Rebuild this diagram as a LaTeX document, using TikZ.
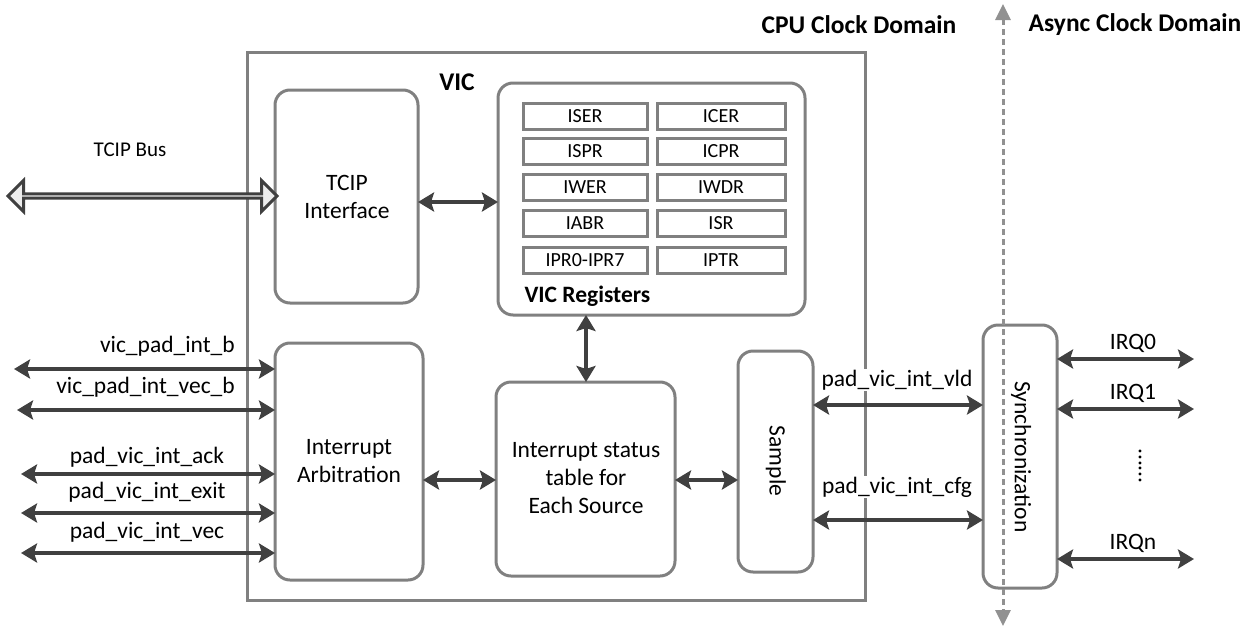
\documentclass[tikz,border=0pt]{standalone}
\usepackage{fontspec}
\setmainfont{Carlito}
\usetikzlibrary{arrows.meta,shapes.arrows}
\definecolor{boxgray}{RGB}{128,128,128}
\definecolor{arrgray}{RGB}{64,64,64}
\definecolor{dashgray}{RGB}{145,145,145}
\begin{document}
\begin{tikzpicture}[x=1pt,y=-1pt,
  blk/.style={draw=boxgray,line width=3pt,rounded corners=15pt,fill=white},
  reg/.style={draw=boxgray,line width=3pt,fill=white,minimum height=26pt,inner sep=0pt,font=\fontsize{20}{23}\selectfont},
  conn/.style={draw=arrgray,line width=3.5pt,{Stealth[length=16pt,width=19pt,inset=3pt]}-{Stealth[length=16pt,width=19pt,inset=3pt]}},
  sig/.style={font=\fontsize{23.5}{27}\selectfont,fill=white,inner sep=1pt},
  btxt/.style={font=\bfseries\fontsize{25.5}{29}\selectfont},
  txt/.style={font=\fontsize{23.5}{28}\selectfont,align=center}]
\useasboundingbox (0,0) rectangle (1252,629);
% outer VIC box
\draw[boxgray,line width=3pt] (247,52) rectangle (865,600);
\node[btxt] (vic) at (457,82) {VIC};
% titles
\node[btxt] (cpu) at (859,25) {CPU Clock Domain};
\node[btxt] (async) at (1135,25) {Async Clock Domain};
% TCIP interface
\draw[blk] (275,90) rectangle (418,303);
\coordinate (tciL) at (275,196);
\coordinate (tciR) at (418,202);
\node[txt] (tcitxt) at (347,197) {TCIP\\Interface};
% VIC registers
\draw[blk] (498,83) rectangle (805,315);
\coordinate (vrL) at (498,202);
\coordinate (vrB) at (586,315);
\foreach \n/\y/\a/\b in {1/116/ISER/ICER,2/151/ISPR/ICPR,3/187.5/IWER/IWDR,4/223.5/IABR/ISR,5/260/IPR0-IPR7/IPTR}{
  \node[reg,minimum width=124pt] (rl\n) at (585,\y) {\a};
  \node[reg,minimum width=128pt] (rr\n) at (721,\y) {\b};
}
\node[btxt,anchor=west,font=\bfseries\fontsize{23.5}{27}\selectfont] (vrt) at (521,296) {VIC Registers};
% interrupt arbitration
\draw[blk] (275,343) rectangle (423,580);
\node[txt] (arbt) at (349,461) {Interrupt\\Arbitration};
% table
\draw[blk] (496,382) rectangle (675,576);
\node[txt] (tabt) at (586,478) {Interrupt status\\table for\\Each Source};
% sample
\draw[blk] (738,351) rectangle (813,572);
\node[txt,rotate=-90] (samt) at (776,461) {Sample};
% TCIP bus
\node[single arrow,double arrow,draw=arrgray,fill=white!93!black,line width=3pt,
  minimum width=31pt,single arrow head extend=9pt,double arrow head extend=9pt,
  minimum height=269pt,inner sep=0pt,shape border uses incircle=false] (bus) at (142.5,196) {};
\node[font=\fontsize{21}{25}\selectfont] (bust) at (130,150) {TCIP Bus};
% internal connectors
\draw[conn] (tciR) -- (vrL);
\draw[conn] (vrB) -- (586,382);
\draw[conn] (423,480) -- (496,480);
\draw[conn] (675,480) -- (738,480);
% left signals
\coordinate (l1) at (14,369);
\coordinate (l2) at (17,410);
\coordinate (l3) at (21,474);
\coordinate (l4) at (21,513);
\coordinate (l5) at (21,553);
\draw[conn] (l1) -- (275,369);
\draw[conn] (l2) -- (275,410);
\draw[conn] (l3) -- (275,474);
\draw[conn] (l4) -- (275,513);
\draw[conn] (l5) -- (275,553);
\node[sig,fill=none,anchor=east] (s1) at (236,346) {vic\_pad\_int\_b};
\node[sig,fill=none,anchor=east] (s2) at (236,387) {vic\_pad\_int\_vec\_b};
\node[sig,fill=none] (s3) at (147,457) {pad\_vic\_int\_ack};
\node[sig,fill=none] (s4) at (147,492) {pad\_vic\_int\_exit};
\node[sig,fill=none] (s5) at (147,532) {pad\_vic\_int\_vec};
% sync box
\draw[blk] (983,325) rectangle (1057,588);
% sample <-> sync
\node[sig] (v1) at (897,380) {pad\_vic\_int\_vld};
\node[sig] (v2) at (897,487) {pad\_vic\_int\_cfg};
\draw[conn] (813,405) -- (983,405);
\draw[conn] (813,520) -- (983,520);
% dashed domain line
\coordinate (dtop) at (1003,4);
\coordinate (dbot) at (1003,626);
\draw[dashgray,line width=3pt,dash pattern=on 6pt off 4pt,
  {Triangle[length=16pt,width=15pt]}-{Triangle[length=16pt,width=15pt]}] (dtop) -- (dbot);
\node[txt,rotate=-90] (synt) at (1021,457) {Synchronization};
% IRQs
\coordinate (q0) at (1194,359);
\coordinate (q1) at (1194,409);
\coordinate (qn) at (1194,559);
\draw[conn] (1057,359) -- (q0);
\draw[conn] (1057,409) -- (q1);
\draw[conn] (1057,559) -- (qn);
\node[sig,fill=none] (i0) at (1133,343) {IRQ0};
\node[sig,fill=none] (i1) at (1133,393) {IRQ1};
\node[sig,fill=none] (in) at (1133,543) {IRQn};
\node[sig,fill=none,rotate=-90] (dots) at (1140,466) {......};
\end{tikzpicture}
\end{document}
